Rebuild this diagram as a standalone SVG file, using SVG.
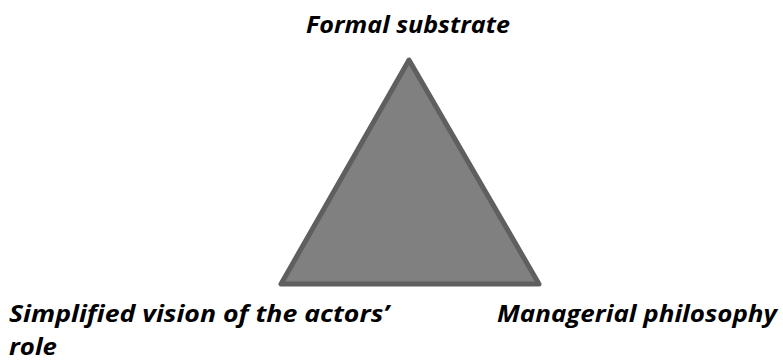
<svg xmlns="http://www.w3.org/2000/svg" width="783" height="362" viewBox="0 0 783 362">
<style>
.lbl{font-family:"Open Sans","Liberation Sans",sans-serif;font-weight:bold;font-style:italic;font-size:24px;fill:#000}
.tri{fill:#808080;stroke:#5f5f5f;stroke-width:5;stroke-linejoin:round}
</style>
<rect width="783" height="362" fill="#fff"/>
<g id="triangle">
<polygon class="tri" points="409,60 281,284 539,284"/>
</g>
<g id="formal-substrate">
<text class="lbl" x="306" y="33" textLength="204" lengthAdjust="spacingAndGlyphs">Formal substrate</text>
</g>
<g id="simplified-vision">
<text class="lbl" x="9" y="322" textLength="380" lengthAdjust="spacingAndGlyphs">Simplified vision of the actors’</text>
<text class="lbl" x="9" y="355" textLength="48" lengthAdjust="spacingAndGlyphs">role</text>
</g>
<g id="managerial-philosophy">
<text class="lbl" x="497" y="322" textLength="280" lengthAdjust="spacingAndGlyphs">Managerial philosophy</text>
</g>
<g id="connectors"/>
</svg>
